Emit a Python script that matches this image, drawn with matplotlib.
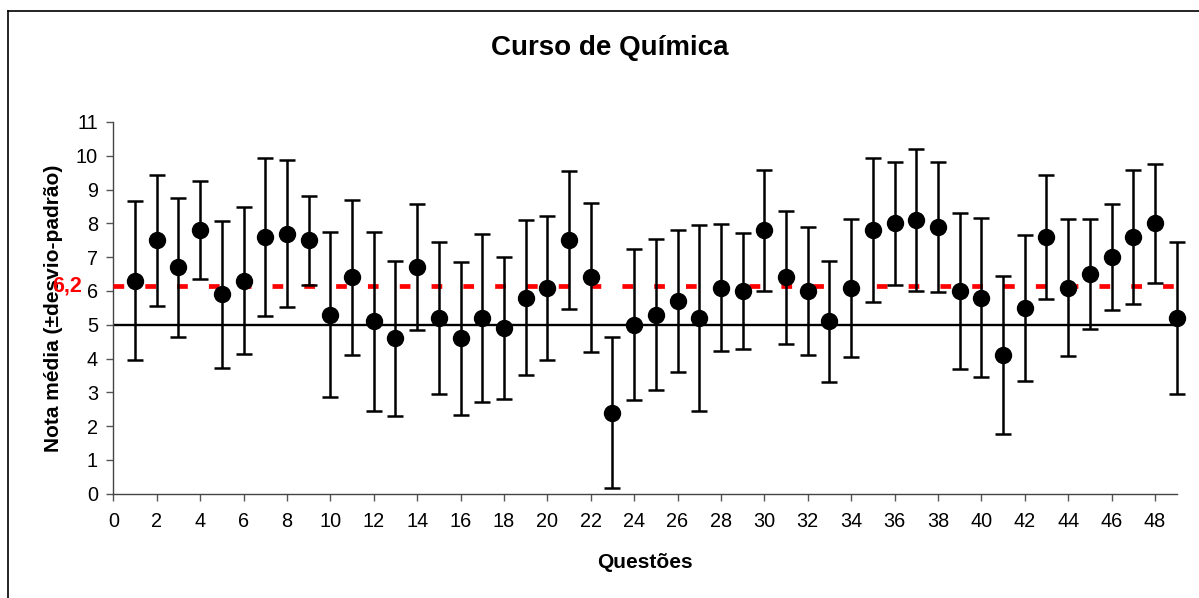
import matplotlib
matplotlib.use("Agg")
import matplotlib.pyplot as plt
from matplotlib.lines import Line2D

plt.rcParams['font.family'] = ['Liberation Sans', 'DejaVu Sans']
plt.rcParams['lines.scale_dashes'] = False

questoes = list(range(1, 50))
medias = [6.3, 7.5, 6.7, 7.8, 5.9, 6.3, 7.6, 7.7, 7.5, 5.3,
          6.4, 5.1, 4.6, 6.7, 5.2, 4.6, 5.2, 4.9, 5.8, 6.1,
          7.5, 6.4, 2.4, 5.0, 5.3, 5.7, 5.2, 6.1, 6.0, 7.8,
          6.4, 6.0, 5.1, 6.1, 7.8, 8.0, 8.1, 7.9, 6.0, 5.8,
          4.1, 5.5, 7.6, 6.1, 6.5, 7.0, 7.6, 8.0, 5.2]
desvios = [2.35, 1.94, 2.05, 1.45, 2.17, 2.18, 2.33, 2.17, 1.31, 2.44,
           2.29, 2.65, 2.30, 1.86, 2.26, 2.26, 2.48, 2.10, 2.30, 2.13,
           2.04, 2.20, 2.23, 2.24, 2.23, 2.10, 2.74, 1.87, 1.71, 1.79,
           1.97, 1.90, 1.80, 2.04, 2.12, 1.83, 2.09, 1.93, 2.31, 2.36,
           2.33, 2.17, 1.84, 2.03, 1.63, 1.57, 1.98, 1.75, 2.24]
media_geral = 6.15
media_label = "6,2"
nota_corte = 5
xticks = list(range(0, 50, 2))
yticks = list(range(0, 12))

fig = plt.figure(figsize=(11.99, 5.98), dpi=100)
ax = fig.add_axes([0.0945, 0.1744, 0.9814 - 0.0945, 0.796 - 0.1744])

ax.axhline(nota_corte, color='black', lw=1.7, zorder=2)
ax.plot([0, 49], [media_geral, media_geral], color='#ff0000', lw=3.4,
        dashes=(7.7, 15.2), solid_capstyle='butt', dash_capstyle='butt', zorder=3)

ax.errorbar(questoes, medias, yerr=desvios, fmt='o', color='black',
            ecolor='black', elinewidth=1.8, capsize=5.8, capthick=1.8,
            markersize=11.5, zorder=4, clip_on=False)

ax.set_xlim(0, 49)
ax.set_ylim(0, 11)
ax.set_xticks(xticks)
ax.set_yticks(yticks)
ax.tick_params(axis='both', labelsize=14.3, length=5, width=1, color='#555555', pad=6)
ax.tick_params(axis='x', pad=8)
for s in ['top', 'right']:
    ax.spines[s].set_visible(False)
for s in ['left', 'bottom']:
    ax.spines[s].set_color('#444444')
    ax.spines[s].set_linewidth(1.0)

ax.set_title("Curso de Química", fontsize=20, fontweight='bold', pad=0,
             x=(610 - 113.3) / (1176.7 - 113.3), y=1.0 + (122 - 48) / 371.7, va='center')
ax.set_xlabel("Questões", fontsize=15, fontweight='bold', labelpad=16)
ax.set_ylabel("Nota média (±desvio-padrão)", fontsize=15, fontweight='bold', labelpad=9)

fig.text(82 / 1199, 1 - 285.5 / 598, media_label, color='#ff0000', fontsize=15.5,
         fontweight='bold', ha='right', va='center')

# outer frame (top and left edges visible)
fig.add_artist(Line2D([8 / 1199, 1.0], [1 - 11 / 598, 1 - 11 / 598], color='black', lw=1.2,
                      transform=fig.transFigure))
fig.add_artist(Line2D([8 / 1199, 8 / 1199], [0, 1 - 11 / 598], color='black', lw=1.2,
                      transform=fig.transFigure))

fig.savefig("out.png", dpi=100)
